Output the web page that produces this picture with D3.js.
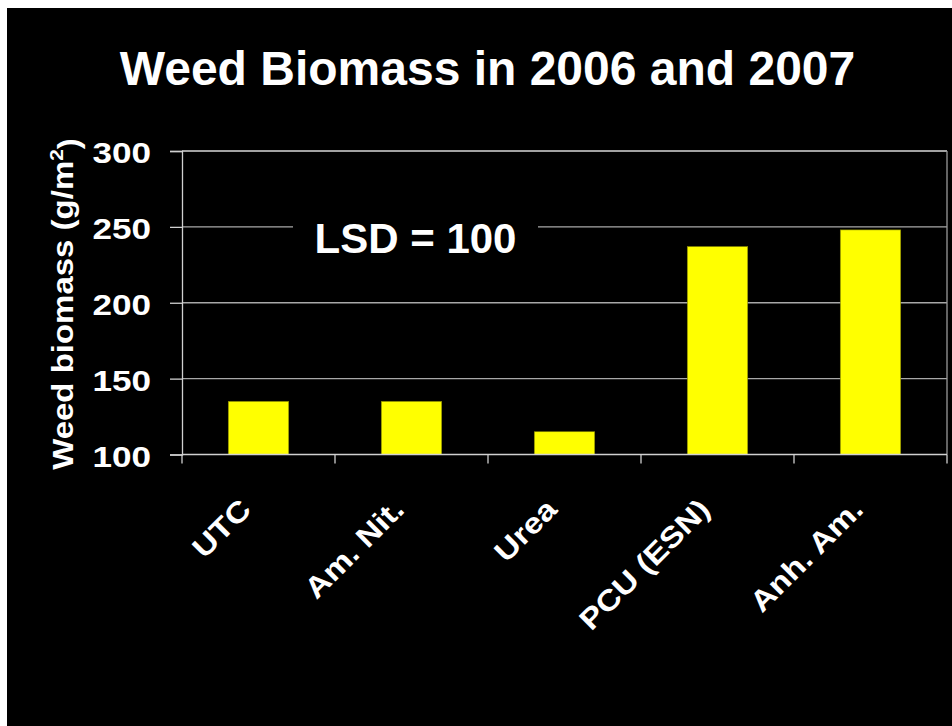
<!DOCTYPE html>
<html>
<head>
<meta charset="utf-8">
<script src="https://cdn.jsdelivr.net/npm/d3@7"></script>
<style>
  body { margin: 0; background: #fff; }
  text { font-family: "Liberation Sans", Arial, sans-serif; font-weight: bold; fill: #fff; }
</style>
</head>
<body>
<div id="chart"></div>
<script>
// data
var categories = ["UTC", "Am. Nit.", "Urea", "PCU (ESN)", "Anh. Am."];
var biomass = [135, 135, 115, 237, 248];
var yTicks = [100, 150, 200, 250, 300];

var svgWidth = 952, svgHeight = 726;

// plot area
var plot = { left: 182, right: 947, top: 151, bottom: 454.5 };

var svg = d3.select("#chart")
    .append("svg")
    .attr("width", svgWidth)
    .attr("height", svgHeight);

// slide background (thin white strip top/left)
svg.append("rect").attr("width", svgWidth).attr("height", svgHeight).attr("fill", "#fff");
svg.append("rect").attr("x", 7).attr("y", 8)
    .attr("width", svgWidth - 7).attr("height", svgHeight - 8).attr("fill", "#000");

// scales
var xScale = d3.scaleBand()
    .domain(categories)
    .range([plot.left, plot.right])
    .paddingInner(0.605)
    .paddingOuter(0.3025);

var yScale = d3.scaleLinear()
    .domain([100, 300])
    .range([plot.bottom, plot.top]);

// gridlines
svg.append("g").selectAll("line")
    .data(yTicks.filter(function(d) { return d > 100; }))
    .enter()
    .append("line")
    .attr("x1", plot.left).attr("x2", plot.right)
    .attr("y1", d => yScale(d)).attr("y2", d => yScale(d))
    .attr("stroke", d => d == 300 ? "#d8d8d8" : "#a8a8a8")
    .attr("stroke-width", 1.3);

// right border of plot area
svg.append("line")
    .attr("x1", plot.right).attr("x2", plot.right)
    .attr("y1", plot.top).attr("y2", plot.bottom)
    .attr("stroke", "#999").attr("stroke-width", 1.3);

// bars
svg.append("g").selectAll("rect")
    .data(biomass)
    .enter()
    .append("rect")
    .attr("x", (d, i) => xScale(categories[i]))
    .attr("y", d => yScale(d))
    .attr("width", xScale.bandwidth())
    .attr("height", d => plot.bottom - yScale(d))
    .attr("fill", "#ffff00")
    .attr("stroke", "#8a8a00")
    .attr("stroke-width", 0.6);

// y axis (line + ticks)
var leftAxis = d3.axisLeft(yScale).tickValues(yTicks).tickSize(12).tickFormat("");
var yAxisG = svg.append("g")
    .attr("transform", `translate(${plot.left},0)`)
    .call(leftAxis);
yAxisG.select(".domain").attr("stroke", "#d0d0d0").attr("stroke-width", 1.3);
yAxisG.selectAll(".tick line").attr("stroke", "#d0d0d0").attr("stroke-width", 1.3);

// x axis line and boundary ticks
var step = xScale.step();
svg.append("line")
    .attr("x1", plot.left).attr("x2", plot.right)
    .attr("y1", plot.bottom).attr("y2", plot.bottom)
    .attr("stroke", "#d0d0d0").attr("stroke-width", 1.3);
svg.append("g").selectAll("line")
    .data(d3.range(categories.length + 1))
    .enter()
    .append("line")
    .attr("x1", i => plot.left + i * step).attr("x2", i => plot.left + i * step)
    .attr("y1", plot.bottom).attr("y2", plot.bottom + 9)
    .attr("stroke", "#d0d0d0").attr("stroke-width", 1.3);

// y tick labels
svg.append("g").selectAll("text")
    .data(yTicks)
    .enter()
    .append("text")
    .attr("transform", d => `translate(151,${yScale(d)}) scale(1.17,1)`)
    .attr("dy", "0.4em")
    .attr("text-anchor", "end")
    .style("font-size", "30px")
    .text(d => d);

// category labels, rotated
svg.append("g").selectAll("text")
    .data(categories)
    .enter()
    .append("text")
    .attr("transform", d => `translate(${xScale(d) + xScale.bandwidth() / 2 - 13},504) rotate(-45) scale(1.15,1)`)
    .attr("dy", "0.35em")
    .attr("text-anchor", "end")
    .style("font-size", "29px")
    .text(d => d);

// y axis title
var yTitle = svg.append("text")
    .attr("transform", `translate(73,304) rotate(-90) scale(1.1,1)`)
    .attr("text-anchor", "middle")
    .style("font-size", "30px");
yTitle.append("tspan").text("Weed biomass (g/m");
yTitle.append("tspan").attr("dy", "-0.55em").style("font-size", "19px").text("2");
yTitle.append("tspan").attr("dy", "0.55em").text(")");

// chart title
svg.append("text")
    .attr("x", 487.5)
    .attr("y", 85)
    .attr("text-anchor", "middle")
    .style("font-size", "48px")
    .text("Weed Biomass in 2006 and 2007");

// LSD note, sits on a black box over the 250 gridline
svg.append("rect")
    .attr("x", 293).attr("y", 212)
    .attr("width", 245).attr("height", 50)
    .attr("fill", "#000");
svg.append("text")
    .attr("x", 415.5)
    .attr("y", 252.7)
    .attr("text-anchor", "middle")
    .style("font-size", "42px")
    .text("LSD = 100");
</script>
</body>
</html>
